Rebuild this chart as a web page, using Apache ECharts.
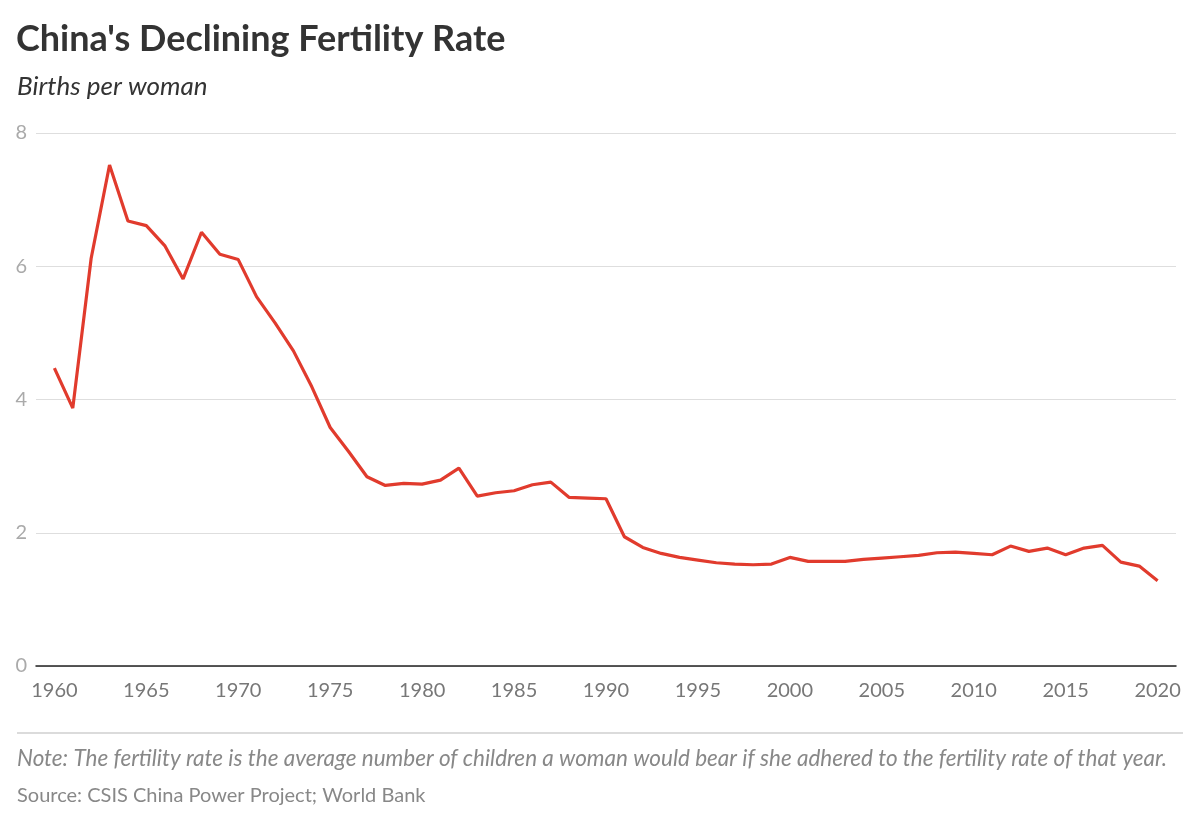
<!DOCTYPE html>
<html>
<head>
<meta charset="utf-8">
<script src="https://cdn.jsdelivr.net/npm/echarts@6/dist/echarts.min.js"></script>
<style>html,body{margin:0;padding:0;background:#fff}#chart{width:1200px;height:825px}</style>
</head>
<body>
<div id="chart"></div>
<script>
const titleText = "China's Declining Fertility Rate";
const subtitleText = "Births per woman";
const noteText = "Note: The fertility rate is the average number of children a woman would bear if she adhered to the fertility rate of that year.";
const sourceText = "Source: CSIS China Power Project; World Bank";

const years = [1960,1961,1962,1963,1964,1965,1966,1967,1968,1969,
  1970,1971,1972,1973,1974,1975,1976,1977,1978,1979,
  1980,1981,1982,1983,1984,1985,1986,1987,1988,1989,
  1990,1991,1992,1993,1994,1995,1996,1997,1998,1999,
  2000,2001,2002,2003,2004,2005,2006,2007,2008,2009,
  2010,2011,2012,2013,2014,2015,2016,2017,2018,2019,2020];
const fertility = [4.47,3.87,6.12,7.52,6.68,6.61,6.31,5.81,6.51,6.18,
  6.10,5.54,5.15,4.73,4.19,3.58,3.22,2.84,2.71,2.74,
  2.73,2.79,2.97,2.55,2.60,2.63,2.72,2.76,2.53,2.52,
  2.51,1.94,1.78,1.69,1.63,1.59,1.55,1.53,1.52,1.53,
  1.63,1.57,1.57,1.57,1.60,1.62,1.64,1.66,1.70,1.71,
  1.69,1.67,1.80,1.72,1.77,1.67,1.77,1.81,1.56,1.50,1.28];
const yTicks = [0, 2, 4, 6, 8];

const font = 'Lato';
const chart = echarts.init(document.getElementById('chart'), null, {renderer: 'canvas'});
chart.setOption({
  animation: false,
  backgroundColor: '#fff',
  title: [
    {text: titleText, left: 16, top: 21, padding: 0, textStyle: {fontFamily: font, fontSize: 36, fontWeight: 'bold', color: '#333'}},
    {text: subtitleText, left: 17, top: 74, padding: 0, textStyle: {fontFamily: font, fontSize: 26, fontStyle: 'italic', fontWeight: 'normal', color: '#333'}}
  ],
  grid: {left: 36, right: 24, top: 133, bottom: 159, containLabel: false},
  xAxis: {
    type: 'value', min: 1959, max: 2021, interval: 1,
    axisLine: {show: true, lineStyle: {color: '#222', width: 1.5}},
    axisTick: {show: false},
    splitLine: {show: false},
    axisLabel: {
      margin: 15, color: '#777', fontFamily: font, fontSize: 20,
      formatter: v => (v % 5 === 0 ? String(v) : '')
    }
  },
  yAxis: {
    type: 'value', min: yTicks[0], max: yTicks[yTicks.length - 1], interval: 2,
    axisLine: {show: false}, axisTick: {show: false},
    splitLine: {lineStyle: {color: '#dedede', width: 1}},
    axisLabel: {margin: 9, color: '#aaa', fontFamily: font, fontSize: 20}
  },
  series: [{
    type: 'line',
    data: years.map((y, i) => [y, fertility[i]]),
    showSymbol: false, symbol: 'none',
    lineStyle: {color: '#e13b2d', width: 3.2},
    itemStyle: {color: '#e13b2d'}
  }],
  graphic: [
    {type: 'line', shape: {x1: 17, y1: 733, x2: 1183, y2: 733}, style: {stroke: '#cfcfcf', lineWidth: 1.5}},
    {type: 'text', left: 17, top: 747, style: {text: noteText, font: 'italic 22.5px Lato', fill: '#888'}},
    {type: 'text', left: 17, top: 786, style: {text: sourceText, font: '20px Lato', fill: '#888'}}
  ]
});
</script>
</body>
</html>
